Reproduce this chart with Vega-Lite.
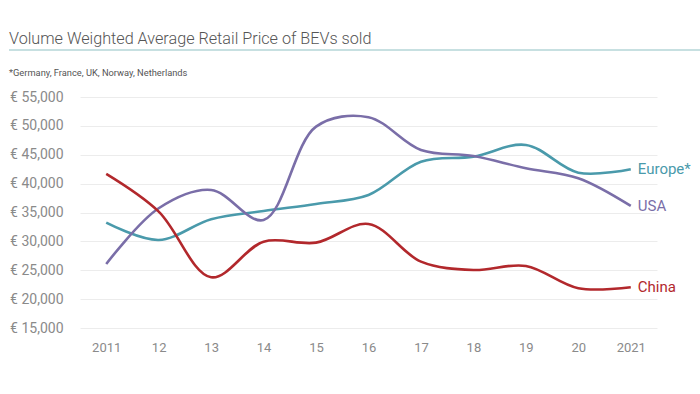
{
  "$schema": "https://vega.github.io/schema/vega-lite/v6.json",
  "width": 577,
  "height": 231,
  "autosize": "none",
  "padding": {"left": 80, "top": 97, "right": 43, "bottom": 66},
  "background": "white",
  "config": {
    "view": {"stroke": null},
    "font": "Roboto"
  },
  "title": {
    "text": "Volume Weighted Average Retail Price of BEVs sold",
    "subtitle": "*Germany, France, UK, Norway, Netherlands",
    "anchor": "start",
    "frame": "group",
    "dx": -71,
    "offset": -29,
    "font": "Roboto",
    "fontSize": 16.2,
    "fontWeight": 300,
    "color": "#555555",
    "subtitleFont": "Roboto",
    "subtitleFontSize": 9.3,
    "subtitleColor": "#555555",
    "subtitlePadding": 22
  },
  "data": {
    "values": [
      {"x": "2011", "series": "Europe*", "v": 33240},
      {"x": "12", "series": "Europe*", "v": 30240},
      {"x": "13", "series": "Europe*", "v": 33830},
      {"x": "14", "series": "Europe*", "v": 35260},
      {"x": "15", "series": "Europe*", "v": 36480},
      {"x": "16", "series": "Europe*", "v": 38030},
      {"x": "17", "series": "Europe*", "v": 43800},
      {"x": "18", "series": "Europe*", "v": 44670},
      {"x": "19", "series": "Europe*", "v": 46700},
      {"x": "20", "series": "Europe*", "v": 41900},
      {"x": "2021", "series": "Europe*", "v": 42490},
      {"x": "2011", "series": "USA", "v": 26080},
      {"x": "12", "series": "USA", "v": 35730},
      {"x": "13", "series": "USA", "v": 38900},
      {"x": "14", "series": "USA", "v": 33700},
      {"x": "15", "series": "USA", "v": 49870},
      {"x": "16", "series": "USA", "v": 51500},
      {"x": "17", "series": "USA", "v": 45830},
      {"x": "18", "series": "USA", "v": 44790},
      {"x": "19", "series": "USA", "v": 42660},
      {"x": "20", "series": "USA", "v": 40930},
      {"x": "2021", "series": "USA", "v": 36130},
      {"x": "2011", "series": "China", "v": 41670},
      {"x": "12", "series": "China", "v": 35150},
      {"x": "13", "series": "China", "v": 23780},
      {"x": "14", "series": "China", "v": 29950},
      {"x": "15", "series": "China", "v": 29780},
      {"x": "16", "series": "China", "v": 33010},
      {"x": "17", "series": "China", "v": 26490},
      {"x": "18", "series": "China", "v": 25050},
      {"x": "19", "series": "China", "v": 25740},
      {"x": "20", "series": "China", "v": 21880},
      {"x": "2021", "series": "China", "v": 22050}
    ]
  },
  "layer": [
    {
      "encoding": {
        "x": {
          "field": "x",
          "type": "ordinal",
          "sort": null,
          "scale": {"type": "point", "padding": 0.5},
          "axis": {
            "title": null,
            "labelAngle": 0,
            "domain": false,
            "ticks": false,
            "grid": false,
            "labelFont": "Roboto",
            "labelFontSize": 13,
            "labelColor": "#8a8a8a",
            "labelPadding": 13
          }
        },
        "y": {
          "field": "v",
          "type": "quantitative",
          "scale": {"domain": [15000, 55000], "nice": false, "zero": false},
          "axis": {
            "title": null,
            "values": [15000, 20000, 25000, 30000, 35000, 40000, 45000, 50000, 55000],
            "labelExpr": "'€ ' + format(datum.value, ',')",
            "domain": false,
            "ticks": false,
            "gridColor": "#ececec",
            "gridWidth": 1,
            "labelFont": "Roboto",
            "labelFontSize": 14,
            "labelColor": "#8a8a8a",
            "labelPadding": 17
          }
        },
        "color": {
          "field": "series",
          "type": "nominal",
          "scale": {
            "domain": ["Europe*", "USA", "China"],
            "range": ["#4a9aab", "#7a6ea8", "#b2282c"]
          },
          "legend": null
        }
      },
      "layer": [
        {
          "mark": {"type": "line", "interpolate": "catmull-rom", "strokeWidth": 2.6}
        },
        {
          "transform": [{"filter": "datum.x === '2021'"}],
          "mark": {"type": "text", "align": "left", "baseline": "middle", "dx": 7, "fontSize": 15, "font": "Roboto"},
          "encoding": {"text": {"field": "series"}}
        }
      ]
    },
    {
      "data": {"values": [{"k": 1}]},
      "mark": {"type": "rule", "stroke": "#8fc1c4", "strokeWidth": 1.2, "clip": false},
      "encoding": {
        "x": {"value": -71},
        "x2": {"value": 620},
        "y": {"value": -47},
        "color": {"value": "#8fc1c4"}
      }
    }
  ]
}
